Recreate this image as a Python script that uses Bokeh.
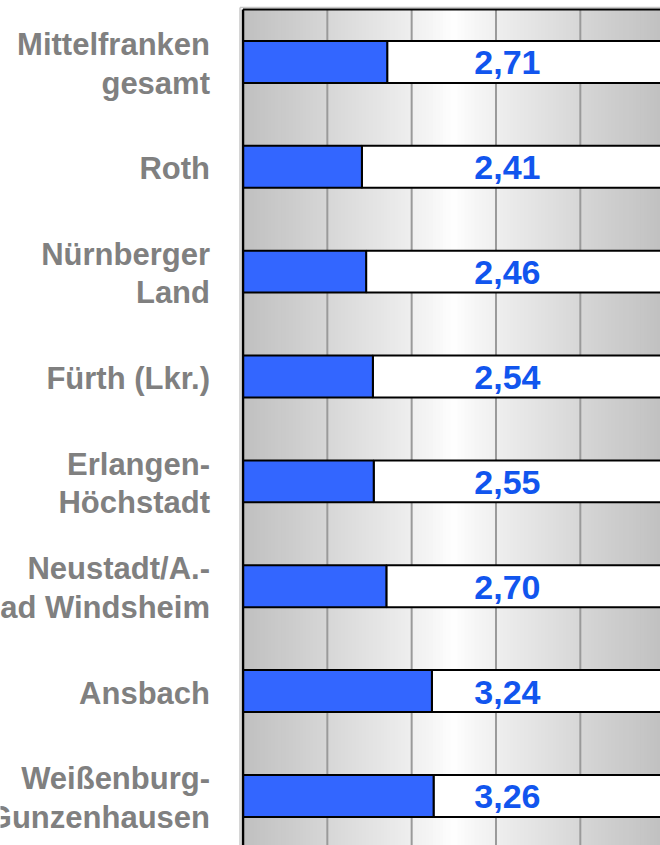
from bokeh.plotting import figure
from bokeh.models import Range1d, ColumnDataSource
from bokeh.core.properties import value
from bokeh.embed import file_html
from bokeh.resources import INLINE

# ---- data ----
regions = [
    "Mittelfranken\ngesamt",
    "Roth",
    "Nürnberger\nLand",
    "Fürth (Lkr.)",
    "Erlangen-\nHöchstadt",
    "Neustadt/A.-\nBad Windsheim",
    "Ansbach",
    "Weißenburg-\nGunzenhausen",
]
values = [2.71, 2.41, 2.46, 2.54, 2.55, 2.70, 3.24, 3.26]
grid_ticks = [2, 3, 4, 5]
axis_start = 1.0
axis_end = 6.0

# ---- layout constants ----
W, H = 660, 845
PX_X = 84.33           # pixels per value unit
PX_Y = 104.86          # pixels per category band
X_LEFT_PX = 242.5      # position of axis start inside figure
TOP_PX = 9.0           # position of plot top inside figure
LABEL_X = 4.135        # centre of value labels (value units)
BAR_H = 0.4

n = len(regions)
ys = [n - 0.5 - i for i in range(n)]

x_lo = axis_start - X_LEFT_PX / PX_X
x_hi = x_lo + W / PX_X
y_hi = n + TOP_PX / PX_Y
y_lo = y_hi - H / PX_Y

p = figure(width=W, height=H, output_backend="svg", toolbar_location=None,
           x_range=Range1d(x_lo, x_hi), y_range=Range1d(y_lo, y_hi),
           min_border=0, min_border_left=0, min_border_right=0,
           min_border_top=0, min_border_bottom=0)
p.outline_line_color = None
p.background_fill_color = "white"
p.border_fill_color = "white"
p.xaxis.visible = False
p.yaxis.visible = False
p.xgrid.visible = False
p.ygrid.visible = False

# ---- gradient background (gray -> white -> gray) ----
N = 120
step = (axis_end - axis_start) / N
lefts, rights, cols = [], [], []
mid = (axis_start + axis_end) / 2
half = (axis_end - axis_start) / 2
for k in range(N):
    l = axis_start + k * step
    c = l + step / 2
    t = abs(c - mid) / half
    lev = int(round(255 - 63 * t ** 0.85))
    lefts.append(l)
    rights.append(min(l + 2 * step, axis_end))
    cols.append("#%02x%02x%02x" % (lev, lev, lev))
p.quad(left=lefts, right=rights, bottom=y_lo, top=n, fill_color=cols,
       line_color=None)

# ---- vertical grid lines ----
p.segment(x0=grid_ticks, x1=grid_ticks, y0=y_lo, y1=n,
          line_color="#9a9a9a", line_width=2)

# ---- bars ----
src = ColumnDataSource(dict(
    y=ys,
    v=values,
    top=[y + BAR_H / 2 for y in ys],
    bottom=[y - BAR_H / 2 for y in ys],
    start=[axis_start] * n,
    end=[axis_end] * n,
    lab=[f"{v:.2f}".replace(".", ",") for v in values],
    name=regions,
))
p.quad(left="v", right="end", top="top", bottom="bottom", source=src,
       fill_color="white", line_color="black", line_width=2)
p.quad(left="start", right="v", top="top", bottom="bottom", source=src,
       fill_color="#3366FF", line_color="black", line_width=2)

# ---- value labels ----
p.text(x=LABEL_X, y="y", text="lab", source=src, y_offset=1,
       text_font=value("Liberation Sans"), text_font_style="bold",
       text_font_size="34px", text_color="#1155EE",
       text_align="center", text_baseline="middle")

# ---- category labels ----
p.text(x="start", y="y", text="name", source=src, x_offset=-33, y_offset=2,
       text_font=value("Liberation Sans"), text_font_style="bold",
       text_font_size="31px", text_color="#808080",
       text_align="right", text_baseline="middle", text_line_height=1.1)

# ---- chart area border (light gray) ----
gx = axis_start - 3.0 / PX_X
gy = n + 2.0 / PX_Y
p.segment(x0=[gx, gx], x1=[gx, axis_end], y0=[y_lo, gy], y1=[gy, gy],
          line_color="#c8c8c8", line_width=1.5)

# ---- plot frame (left / top) ----
p.segment(x0=[axis_start], x1=[axis_end], y0=[n], y1=[n],
          line_color="black", line_width=2)
p.segment(x0=[axis_start], x1=[axis_start], y0=[y_lo], y1=[n],
          line_color="black", line_width=2.5)

open("out.html", "w").write(file_html(p, INLINE))
